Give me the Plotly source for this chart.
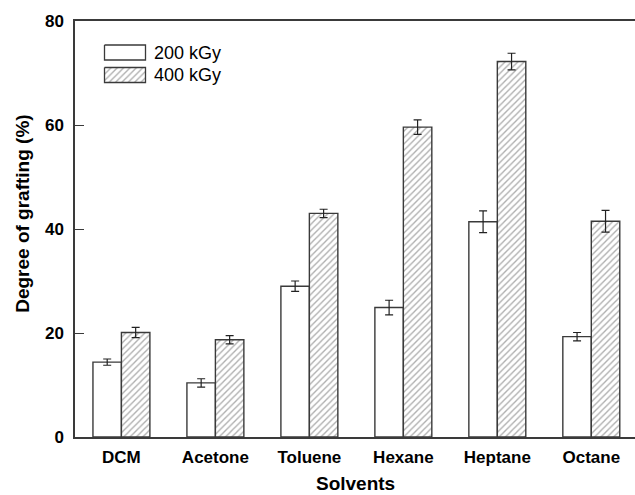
import plotly.graph_objects as go

# Degree of grafting for each solvent at two radiation doses
solvents = ["DCM", "Acetone", "Toluene", "Hexane", "Heptane", "Octane"]
dose_labels = ["200 kGy", "400 kGy"]
grafting_200 = [14.4, 10.4, 29.0, 24.9, 41.4, 19.3]
error_200 = [0.6, 0.8, 1.0, 1.4, 2.1, 0.8]
grafting_400 = [20.1, 18.7, 43.0, 59.6, 72.2, 41.5]
error_400 = [1.0, 0.8, 0.8, 1.4, 1.6, 2.1]
y_ticks = [0, 20, 40, 60, 80]

FONT = "Liberation Sans, Arial, sans-serif"
EDGE = "#3a3a3a"
HATCH = "#5e5e5e"
HATCH_FILL = dict(shape="/", fgcolor=HATCH, bgcolor="white", size=4.5, solidity=0.3)

fig = go.Figure()

fig.add_trace(go.Bar(
    x=solvents, y=grafting_200, name=dose_labels[0],
    marker=dict(color="white", line=dict(color=EDGE, width=1.4)),
    error_y=dict(type="data", array=error_200, color="#222222", thickness=1.2, width=4),
    showlegend=False,
))
fig.add_trace(go.Bar(
    x=solvents, y=grafting_400, name=dose_labels[1],
    marker=dict(color="white", line=dict(color=EDGE, width=1.4), pattern=HATCH_FILL),
    error_y=dict(type="data", array=error_400, color="#222222", thickness=1.2, width=4),
    showlegend=False,
))

# Legend swatches on a hidden overlay axis measured in pixels from the plot's top-left corner
swatches = [
    dict(x0=29.5, x1=70.5, y0=24, y1=39, hatched=False),
    dict(x0=29.5, x1=70.5, y0=46.5, y1=61.5, hatched=True),
]
for sw, label in zip(swatches, dose_labels):
    xs = [sw["x0"], sw["x1"], sw["x1"], sw["x0"], sw["x0"]]
    ys = [sw["y0"], sw["y0"], sw["y1"], sw["y1"], sw["y0"]]
    kw = {"fillpattern": HATCH_FILL} if sw["hatched"] else {}
    fig.add_trace(go.Scatter(
        x=xs, y=ys, xaxis="x2", yaxis="y2", mode="lines", fill="toself",
        fillcolor="white", line=dict(color=EDGE, width=1.3),
        hoverinfo="skip", showlegend=False, **kw,
    ))
    fig.add_annotation(
        x=sw["x1"] + 6, y=(sw["y0"] + sw["y1"]) / 2, xref="x2", yref="y2",
        text=label, showarrow=False, xanchor="left", yanchor="middle",
        font=dict(family=FONT, size=18, color="black"),
    )

fig.update_layout(
    width=635, height=495,
    margin=dict(l=75, r=0, t=21, b=58),
    paper_bgcolor="white", plot_bgcolor="white",
    barmode="group", bargap=0.394, bargroupgap=0,
    font=dict(family=FONT, color="black"),
    xaxis=dict(
        range=[-0.494, 5.465], showline=True, mirror=True, linecolor=EDGE, linewidth=1.5,
        ticks="", showgrid=False, zeroline=False,
        tickfont=dict(family=FONT, size=17, color="black", weight="bold"),
        ticklabelstandoff=4,
    ),
    yaxis=dict(
        range=[0, 80], tickvals=y_ticks, showline=True, mirror=False, linecolor=EDGE, linewidth=1.5,
        ticks="inside", ticklen=9, tickwidth=1.3, tickcolor=EDGE,
        showgrid=False, zeroline=False,
        tickfont=dict(family=FONT, size=17, color="black", weight="bold"),
        ticklabelstandoff=6,
    ),
    xaxis2=dict(overlaying="x", range=[0, 560], visible=False, fixedrange=True),
    yaxis2=dict(overlaying="y", range=[416, 0], visible=False, fixedrange=True),
)

fig.add_annotation(
    text="Solvents", xref="paper", yref="paper", x=0.5, y=-0.1394,
    showarrow=False, xanchor="center", yanchor="bottom", borderpad=0,
    font=dict(family=FONT, size=19, color="black", weight="bold"),
)
fig.add_annotation(
    text="Degree of grafting (%)", xref="paper", yref="paper", x=-0.095, y=0.536,
    textangle=-90, showarrow=False, xanchor="center", yanchor="middle",
    font=dict(family=FONT, size=19, color="black", weight="bold"),
)

fig.write_html("out.html")
